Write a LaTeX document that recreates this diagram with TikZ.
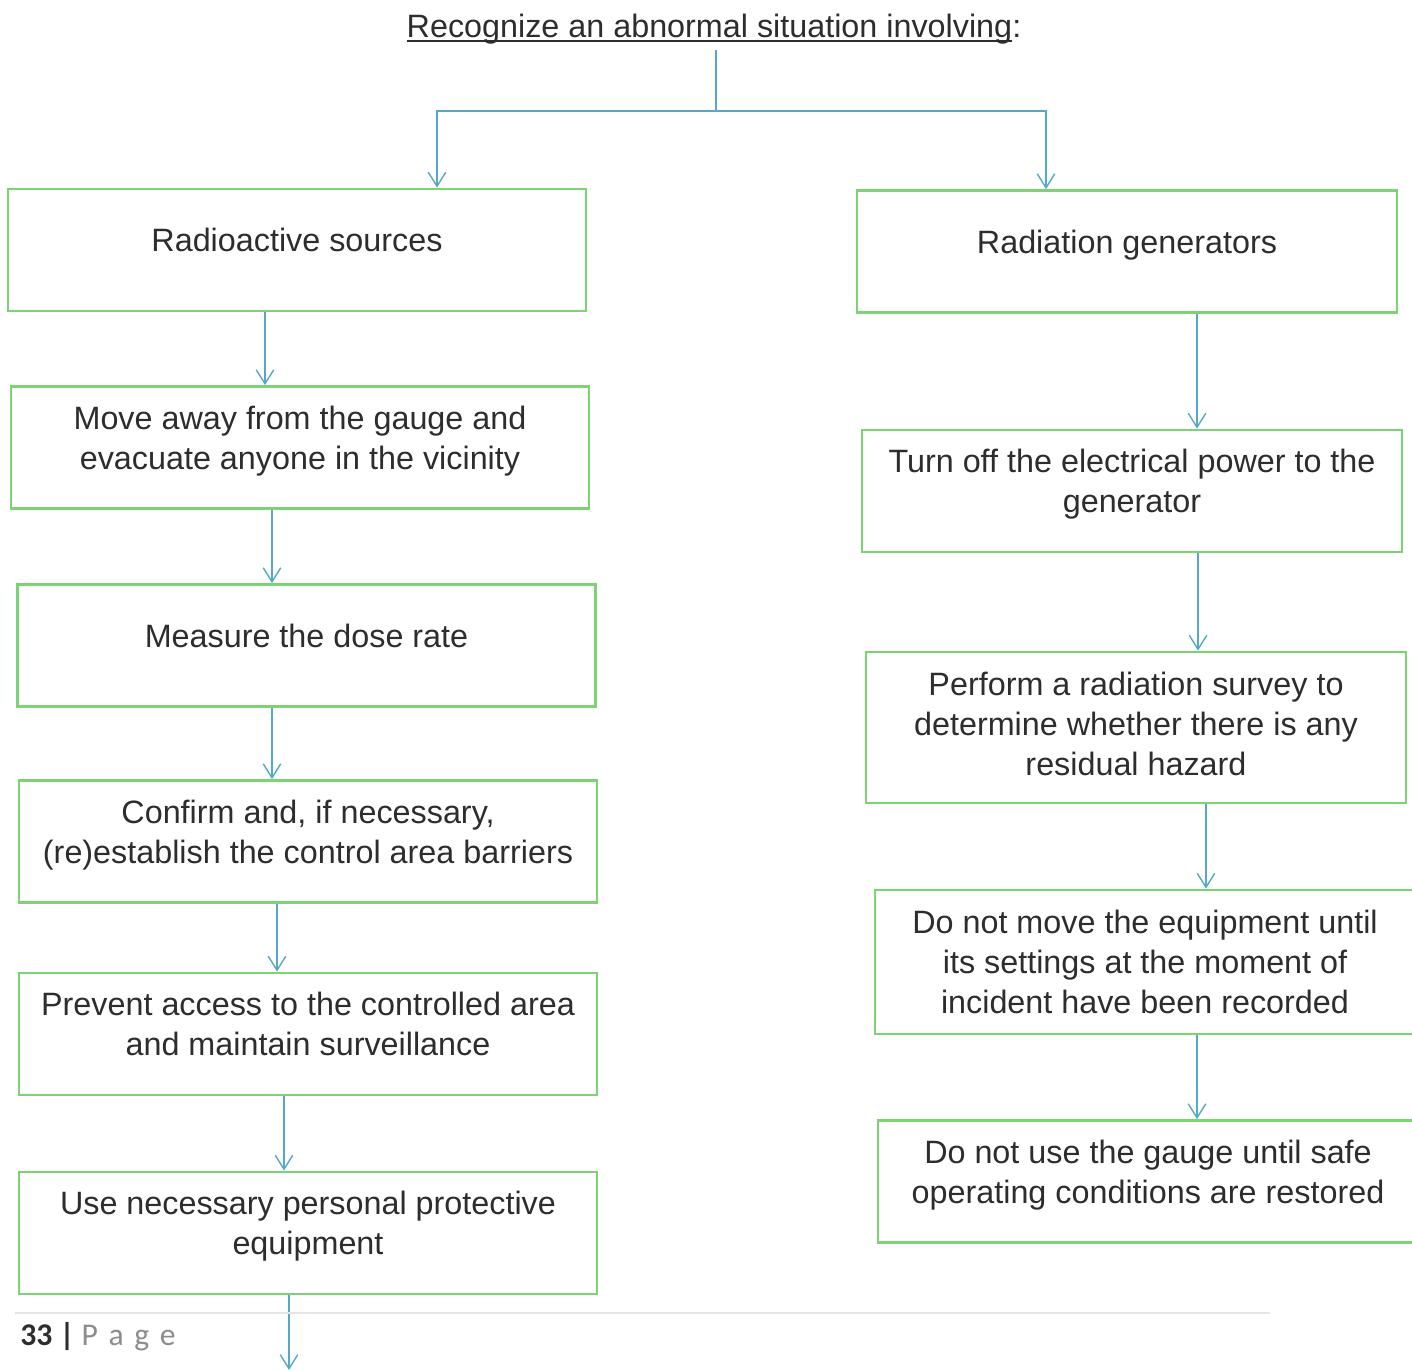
\documentclass[tikz,border=0pt]{standalone}
\usepackage{fontspec}
\setmainfont{Liberation Sans}
\newfontfamily\footerfont{Carlito}
\usetikzlibrary{arrows.meta}
\definecolor{boxgreen}{RGB}{125, 210, 115}
\definecolor{flowblue}{RGB}{85, 168, 200}
\definecolor{inkgray}{RGB}{45, 45, 45}
\definecolor{footgray}{RGB}{140, 140, 140}
\newcommand{\headrule}[1]{\sbox0{#1}\rlap{\rule[-0.16em]{\wd0}{0.06em}}\usebox0}

\begin{document}
\begin{tikzpicture}[x=0.02cm, y=-0.02cm, >={Straight Barb[length=8pt, width=10pt]},
    stepbox/.style={draw=boxgreen, line width=1.6pt, minimum width=11.56cm, minimum height=2.44cm,
        align=center, text=inkgray, font=\fontsize{18.4}{22.8}\selectfont, text depth=0.4cm},
    genbox/.style={stepbox, minimum width=10.8cm},
    flow/.style={flowblue, line width=0.8pt, ->}]
    \useasboundingbox (0,0) rectangle (1412,1370);

    % Heading
    \node[anchor=base, text=inkgray, font=\fontsize{18.4}{22.8}\selectfont] (title) at (714,37) {\headrule{Recognize an abnormal situation involving}:};
    \coordinate (fork) at (716,111);

    % Left column: radioactive sources
    \node[stepbox] (src) at (297,250) {Radioactive sources};
    \node[stepbox] (away) at (300,447.5) {Move away from the gauge and\\evacuate anyone in the vicinity};
    \node[stepbox] (dose) at (306.5,645.5) {Measure the dose rate};
    \node[stepbox] (barrier) at (308,841.5) {Confirm and, if necessary,\\(re)establish the control area barriers};
    \node[stepbox] (access) at (308,1034) {Prevent access to the controlled area\\and maintain surveillance};
    \node[stepbox] (ppe) at (308,1233) {Use necessary personal protective\\equipment};
    \coordinate (exit) at (289,1370);

    % Right column: radiation generators
    \node[genbox] (gen) at (1127,251.5) {Radiation generators};
    \node[genbox] (power) at (1132,491) {Turn off the electrical power to the\\generator};
    \node[genbox, minimum height=3.02cm, text depth=0.14cm] (survey) at (1136,727.5) {Perform a radiation survey to\\determine whether there is any\\residual hazard};
    \node[genbox, minimum height=2.88cm, text depth=0cm] (record) at (1145,962) {Do not move the equipment until\\its settings at the moment of\\incident have been recorded};
    \node[genbox] (gauge) at (1148,1181.5) {Do not use the gauge until safe\\operating conditions are restored};

    % Connections
    \draw[flowblue, line width=0.8pt] (title.south -| fork) -- (fork);
    \draw[flow] (fork) -| (src.north -| 437,0);
    \draw[flow] (fork) -| (gen.north -| 1046,0);
    \foreach \a/\b/\x in {src/away/265, away/dose/272, dose/barrier/272, barrier/access/277, access/ppe/284} {
        \draw[flow] (\a.south -| \x,0) -- (\b.north -| \x,0);
    }
    \foreach \a/\b/\x in {gen/power/1197, power/survey/1198, survey/record/1206, record/gauge/1197} {
        \draw[flow] (\a.south -| \x,0) -- (\b.north -| \x,0);
    }
    \draw[flow] (ppe.south -| exit) -- (exit);

    % Footer
    \draw[gray!20, line width=0.6pt] (15,1313) -- (1270,1313);
    \node[anchor=base west, inner sep=0pt, font=\footerfont\fontsize{18}{20}\selectfont] (pagenum) at (20,1345) {\textbf{\color{inkgray}33 |} \color{footgray}P\,\,a\,\,g\,\,e};

\end{tikzpicture}
\end{document}
